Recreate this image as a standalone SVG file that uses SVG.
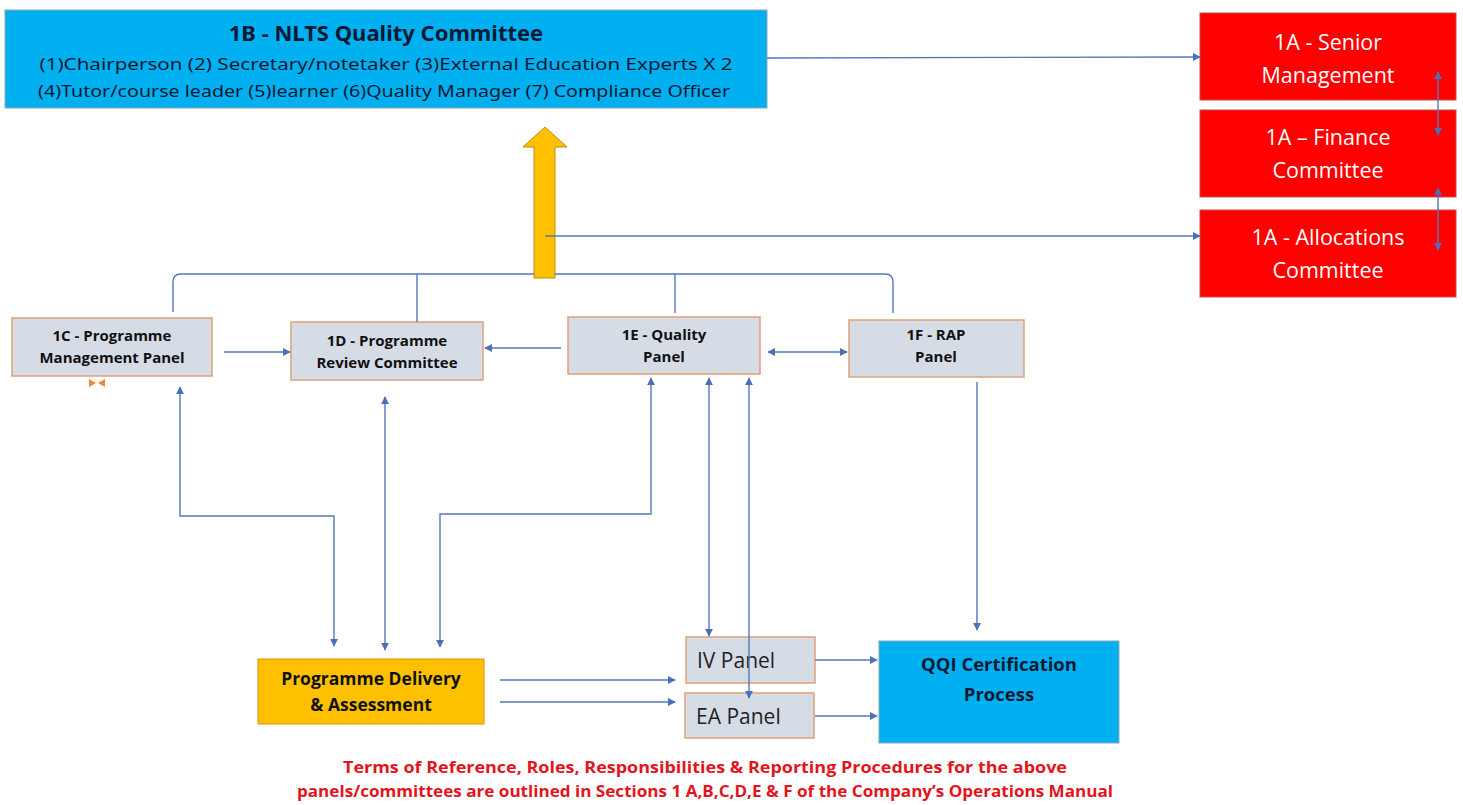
<svg xmlns="http://www.w3.org/2000/svg" width="1463" height="805" viewBox="0 0 1463 805">
<defs>
<marker id="ah" viewBox="0 0 10 10" refX="9" refY="5" markerWidth="8" markerHeight="8" markerUnits="userSpaceOnUse" orient="auto-start-reverse">
<path d="M0,0 L10,5 L0,10 z" fill="#4a70b8"/>
</marker>
<style>
.c{fill:none;stroke:#5577b8;stroke-width:1.4}
.a{marker-end:url(#ah)}
.b{marker-start:url(#ah);marker-end:url(#ah)}
.grey{fill:#d6dce5;stroke:#e0a07a;stroke-width:1.5}
.red{fill:#ff0000;stroke:#c0504d;stroke-width:1}
.blue{fill:#00b0f0;stroke:#8fa6b3;stroke-width:1}
.wt{font-family:"Open Sans","Noto Sans",sans-serif;font-size:21.5px;fill:#ffffff;text-anchor:middle}
.bt{font-family:"Open Sans","Noto Sans",sans-serif;font-weight:bold;font-size:15px;fill:#111;text-anchor:middle}
.bl{font-family:"Open Sans","Noto Sans",sans-serif;font-weight:bold;font-size:17.5px;fill:#111;text-anchor:middle}
.dt{font-family:"Noto Sans","Open Sans",sans-serif;fill:#0b1a33}
.pt{font-family:"Open Sans","Noto Sans",sans-serif;font-size:21px;fill:#222}
.ft{font-family:"Open Sans","Noto Sans",sans-serif;font-weight:bold;font-size:15.5px;fill:#e3141c;text-anchor:middle}
</style>
</defs>
<rect width="1463" height="805" fill="#ffffff"/>

<g id="n1B">
<rect class="blue" x="5" y="10" width="762" height="98"/>
<text class="dt" x="386" y="41" text-anchor="middle" font-size="22" font-weight="bold">1B - NLTS Quality Committee</text>
<text class="dt" x="386" y="70" text-anchor="middle" font-size="17" textLength="693" lengthAdjust="spacingAndGlyphs">(1)Chairperson (2) Secretary/notetaker (3)External Education Experts X 2</text>
<text class="dt" x="384" y="97" text-anchor="middle" font-size="17" textLength="692" lengthAdjust="spacingAndGlyphs">(4)Tutor/course leader (5)learner (6)Quality Manager  (7) Compliance Officer</text>
</g>

<g id="n1A-senior">
<rect class="red" x="1200" y="13" width="256" height="87"/>
<text class="wt" x="1328" y="50">1A - Senior</text>
<text class="wt" x="1328" y="83">Management</text>
</g>
<g id="n1A-finance">
<rect class="red" x="1200" y="110" width="256" height="87"/>
<text class="wt" x="1328" y="145">1A – Finance</text>
<text class="wt" x="1328" y="178">Committee</text>
</g>
<g id="n1A-alloc">
<rect class="red" x="1200" y="210" width="256" height="87"/>
<text class="wt" x="1328" y="245">1A - Allocations</text>
<text class="wt" x="1328" y="278">Committee</text>
</g>

<g id="n1C">
<rect class="grey" x="12" y="318" width="200" height="58"/>
<text class="bt" x="112" y="341">1C - Programme</text>
<text class="bt" x="112" y="363">Management Panel</text>
<polygon points="89,379 96,383 89,387" fill="#e88a3a"/>
<polygon points="105,379 98,383 105,387" fill="#e88a3a"/>
</g>

<g id="n1D">
<rect class="grey" x="291" y="322" width="192" height="58"/>
<text class="bt" x="387" y="346">1D - Programme</text>
<text class="bt" x="387" y="368">Review Committee</text>
</g>

<g id="n1E">
<rect class="grey" x="568" y="317" width="192" height="57"/>
<text class="bt" x="664" y="340">1E - Quality</text>
<text class="bt" x="664" y="362">Panel</text>
</g>

<g id="n1F">
<rect class="grey" x="849" y="320" width="175" height="57"/>
<text class="bt" x="936" y="340">1F - RAP</text>
<text class="bt" x="936" y="362">Panel</text>
</g>

<g id="nPD">
<rect x="258" y="659" width="226" height="65" fill="#ffc000" stroke="#d49a00" stroke-width="1"/>
<text class="bl" x="371" y="685">Programme Delivery</text>
<text class="bl" x="371" y="711">&amp; Assessment</text>
</g>

<g id="nIV">
<rect class="grey" x="686" y="637" width="129" height="46"/>
<text class="pt" x="697" y="668">IV Panel</text>
</g>

<g id="nEA">
<rect class="grey" x="685" y="693" width="129" height="45"/>
<text class="pt" x="696" y="724">EA Panel</text>
</g>

<g id="nQQI">
<rect class="blue" x="879" y="641" width="240" height="102"/>
<text class="bl" x="999" y="671" style="font-size:18.5px;fill:#0b1a33">QQI Certification</text>
<text class="bl" x="999" y="701" style="font-size:18.5px;fill:#0b1a33">Process</text>
</g>

<g id="up-arrow">
<polygon points="534,278 534,147 523,147 545,127 567,147 555,147 555,278" fill="#ffc000" stroke="#b8900a" stroke-width="1"/>
</g>

<g id="connectors">
<path class="c a" d="M767,58 L1200,57"/>
<path class="c a" d="M545,236 L1200,236"/>
<path class="c b" d="M1438,72 L1438,135"/>
<path class="c b" d="M1438,188 L1438,250"/>
<path class="c" d="M173,312 L173,282 Q173,274 181,274 L534,274"/>
<path class="c" d="M555,274 L885,274 Q893,274 893,282 L893,313"/>
<path class="c" d="M417,274 L417,322"/>
<path class="c" d="M675,274 L675,313"/>
<path class="c a" d="M224,352 L290,352"/>
<path class="c a" d="M561,348 L485,348"/>
<path class="c b" d="M768,352 L847,352"/>
<path class="c b" d="M180,387 L180,516 L334,516 L334,646"/>
<path class="c b" d="M385,397 L385,650"/>
<path class="c b" d="M651,378 L651,514 L440,514 L440,647"/>
<path class="c b" d="M709,378 L709,636"/>
<path class="c b" d="M749,378 L749,698"/>
<path class="c a" d="M977,382 L977,630"/>
<path class="c a" d="M500,680 L675,680"/>
<path class="c a" d="M500,702 L675,702"/>
<path class="c a" d="M815,660 L877,660"/>
<path class="c a" d="M815,716 L877,716"/>
</g>

<g id="footer">
<text class="ft" x="705" y="773" textLength="724" lengthAdjust="spacingAndGlyphs">Terms of Reference, Roles, Responsibilities &amp; Reporting Procedures for the above</text>
<text class="ft" x="705" y="797" textLength="816" lengthAdjust="spacingAndGlyphs">panels/committees are outlined in Sections 1 A,B,C,D,E &amp; F of the Company’s Operations Manual</text>
</g>
</svg>
